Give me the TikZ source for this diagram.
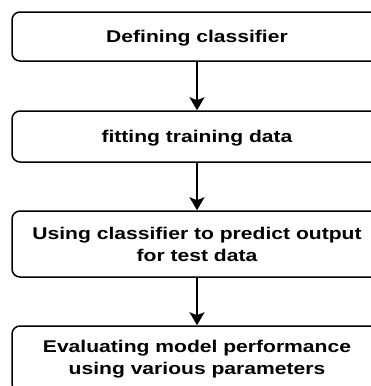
\documentclass[tikz,border=0pt]{standalone}
\usepackage{fontspec}
\newfontfamily\boxfont[FakeStretch=1.24]{Liberation Sans}
\usetikzlibrary{arrows.meta}
\begin{document}
\begin{tikzpicture}[x=1pt,y=-1pt,
  stepbox/.style={draw=black, line width=1.5pt, rounded corners=8pt,
    minimum width=370pt, align=center, inner sep=0pt,
    font=\boxfont\bfseries\fontsize{17}{22}\selectfont},
  oneline/.style={text height=13.5pt, text depth=2.5pt},
  arr/.style={line width=2pt, -{Stealth[length=13pt,width=15pt,inset=3pt]}}]
\useasboundingbox (0,0) rectangle (371,386);
\node[stepbox, oneline, minimum height=49pt] (b1) at (197,36.5) {Defining classifier};
\node[stepbox, oneline, minimum height=51pt] (b2) at (197,136.5) {fitting training data};
\node[stepbox, minimum height=66pt] (b3) at (197,244) {Using classifier to predict output\\for test data};
\node[stepbox, minimum height=66pt] (b4) at (197,359) {Evaluating model performance\\using various parameters};
\draw[arr] (b1) -- (b2);
\draw[arr] (b2) -- (b3);
\draw[arr] (b3) -- (b4);
\end{tikzpicture}
\end{document}
